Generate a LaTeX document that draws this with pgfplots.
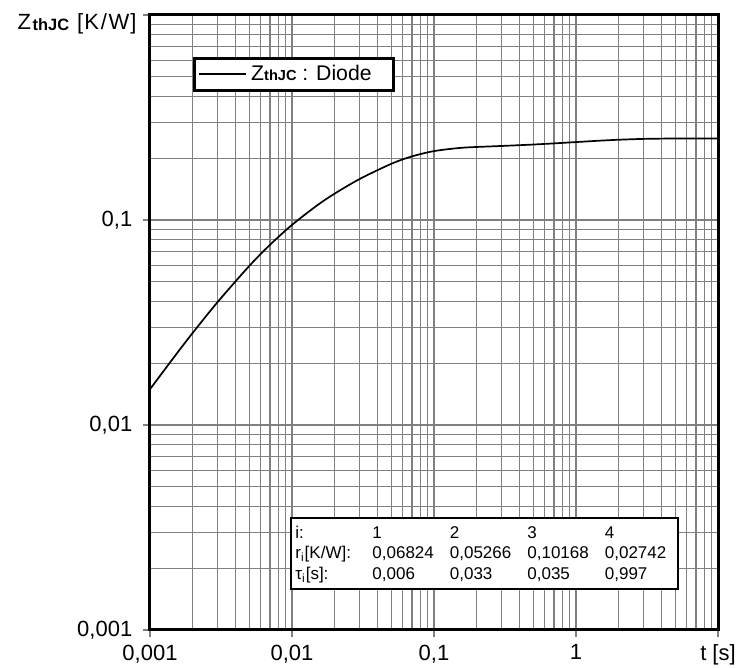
\documentclass[border=0pt]{standalone}
\usepackage{fontspec}
\setmainfont{Liberation Sans}
\usepackage{pgfplots}
\pgfplotsset{compat=1.18}

% Z with bold subscript "thJC"
\newcommand{\zth}[1]{Z\raisebox{-0.3pt}{\fontsize{#1}{8}\selectfont\bfseries thJC}}
% one row of the r_i / tau_i table
\newcommand{\trow}[5]{\makebox[38.5pt][l]{#1}\makebox[38.75pt][l]{#2}\makebox[38.75pt][l]{#3}\makebox[38.75pt][l]{#4}#5}

\begin{document}
\fontsize{11}{13}\selectfont
\begin{tikzpicture}
\begin{loglogaxis}[
  scale only axis, width=284pt, height=307.5pt,
  xmin=0.001, xmax=10, ymin=0.001, ymax=1,
  xtick={0.001,0.01,0.1,1,10},
  xticklabels={{0,001},{0,01},{0,1},{1},{t [s]}},
  ytick={0.001,0.01,0.1,1},
  yticklabels={{0,001},{0,01},{0,1},{}},
  xtick pos=bottom, ytick pos=left,
  tick align=outside,
  major tick length=3.5pt, minor tick length=0pt,
  tick style={gray, line width=0.6pt},
  grid=both,
  major grid style={gray, line width=0.6pt},
  minor grid style={gray, line width=0.6pt},
  axis line style={line width=1.5pt},
  tick label style={font=\fontsize{11}{13}\selectfont},
  yticklabel style={xshift=-1.5pt},
  legend style={at={(0.0757,0.9325)}, anchor=north west, draw=black,
    line width=1.5pt, fill=white, inner xsep=2pt, inner ysep=1.5pt,
    font=\fontsize{10.6}{13}\selectfont},
  legend cell align=left,
  legend image code/.code={\draw[#1] (0pt,0pt) -- (23.5pt,0pt);},
]
  % Z_thJC curve of the diode
  \addplot[black, line width=0.85pt, smooth] coordinates {
    (0.001,0.01494) (0.0015,0.02174) (0.002,0.02815) (0.003,0.03986)
    (0.005,0.05966) (0.007,0.07568) (0.01,0.09466) (0.015,0.11773)
    (0.02,0.13455) (0.03,0.15856) (0.05,0.18796) (0.07,0.20436)
    (0.1,0.21682) (0.15,0.22445) (0.2,0.22710) (0.3,0.22968)
    (0.5,0.23340) (0.7,0.23641) (1,0.23994) (1.5,0.24391)
    (2,0.24631) (3,0.24865) (5,0.24982) (7,0.24998) (10,0.25)
  };
  \addlegendentry{\zth{7.3}\ : Diode\kern7pt\null}

  \coordinate (sw) at (rel axis cs:0,0);
  \coordinate (ne) at (rel axis cs:1,1);
  \coordinate (tl) at (rel axis cs:0,1);
  \coordinate (tab) at (rel axis cs:0.2465,0.1837);
\end{loglogaxis}

\node[anchor=base east, inner sep=0pt, xshift=-6.5pt, yshift=-7.5pt] at (tl)
  {Z\kern0.8pt\raisebox{-0.3pt}{\fontsize{8.2}{8}\selectfont\bfseries thJC}\ \kern1pt[\kern0.5pt K\kern0.9pt/\kern0.9pt W\kern0.5pt]};

% parameter table
\node[draw=black, line width=1.2pt, fill=white, anchor=north west,
  minimum width=193.5pt, minimum height=35.5pt, inner sep=0pt] (box) at (tab) {};
\begin{scope}[every node/.style={anchor=base west, inner sep=0pt,
    font=\fontsize{8.5}{10}\selectfont}]
  \node at ([xshift=2.5pt,yshift=-10.5pt]box.north west) {\trow{i:}{1}{2}{3}{4}};
  \node at ([xshift=2.5pt,yshift=-20.8pt]box.north west)
    {\trow{r\textsubscript{i}[K/W]:}{0,06824}{0,05266}{0,10168}{0,02742}};
  \node at ([xshift=2.5pt,yshift=-31pt]box.north west)
    {\trow{τ\textsubscript{i}[s]:}{0,006}{0,033}{0,035}{0,997}};
\end{scope}

\pgfresetboundingbox
\path ([xshift=-75pt,yshift=-19pt]sw) rectangle ([xshift=12pt,yshift=7.5pt]ne);
\end{tikzpicture}
\end{document}
